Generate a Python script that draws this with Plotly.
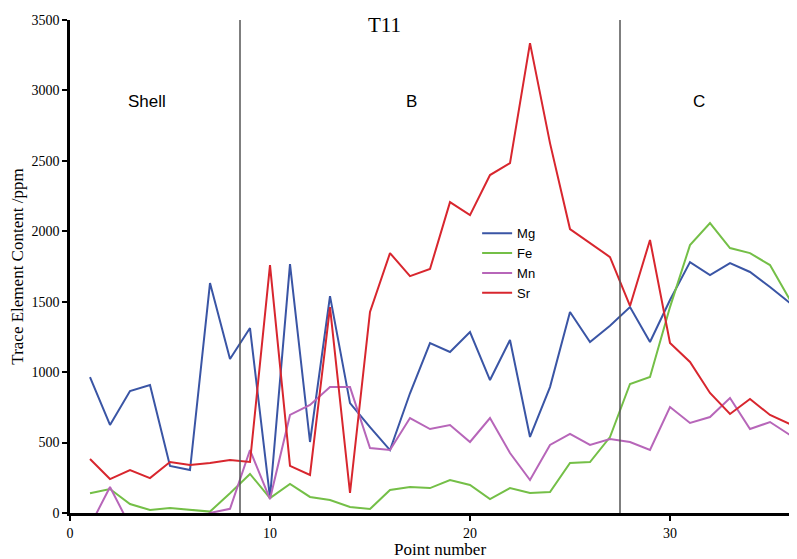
import plotly.graph_objects as go

points = list(range(1, 37))
mg = [965, 625, 866, 908, 334, 305, 1632, 1093, 1313, 110, 1767, 504, 1540, 780, 610, 447,
      850, 1206, 1143, 1285, 944, 1228, 540, 894, 1427, 1214, 1330, 1462, 1214, 1512, 1781, 1689,
      1774, 1711, 1604, 1490]
fe = [140, 170, 64, 21, 36, 21, 10, 140, 277, 106, 206, 114, 92, 43, 28, 163,
      185, 177, 234, 199, 99, 177, 142, 149, 355, 362, 539, 916, 965, 1462, 1902, 2058,
      1881, 1845, 1760, 1512]
mn = [-92, 185, -92, -80, -80, -80, 0, 30, 447, 99, 696, 767, 894, 894, 461, 447,
      674, 596, 624, 504, 674, 426, 234, 483, 561, 483, 525, 504, 447, 752, 639, 681,
      816, 596, 646, 554]
sr = [383, 241, 305, 248, 362, 341, 355, 376, 362, 1760, 334, 270, 1462, 142, 1427, 1845,
      1682, 1732, 2207, 2115, 2399, 2484, 3336, 2626, 2016, 1916, 1817, 1470, 1938, 1207, 1072, 852,
      703, 809, 696, 632]

series = [("Mg", mg, "#3a55a5"), ("Fe", fe, "#74bf47"), ("Mn", mn, "#b766b9"), ("Sr", sr, "#d8262e")]

zone_bounds = [8.5, 27.5]
zone_labels = [("Shell", 3.85), ("B", 17.05), ("C", 31.45)]
zone_label_y = 2924

SERIF = "Liberation Serif, Times New Roman, serif"
SANS = "Liberation Sans, Arial, sans-serif"

fig = go.Figure()
for name, vals, col in series:
    fig.add_trace(go.Scatter(x=points, y=vals, name=name, mode="lines",
                             line=dict(color=col, width=2)))

for xb in zone_bounds:
    fig.add_shape(type="line", x0=xb, x1=xb, y0=0, y1=3500, xref="x", yref="y",
                  line=dict(color="#555555", width=1.5))

for lab, xl in zone_labels:
    fig.add_annotation(x=xl, y=zone_label_y, text=lab, showarrow=False,
                       font=dict(family=SANS, size=17, color="black"))

fig.add_annotation(x=(384 - 70) / 727, y=1 - (25 - 20) / 493, xref="paper", yref="paper",
                   xanchor="center", yanchor="middle",
                   text="T11", showarrow=False,
                   font=dict(family=SERIF, size=21, color="black"))

fig.add_annotation(x=(440 - 70) / 727, y=-(549 - 513) / 493, xref="paper", yref="paper",
                   xanchor="center", yanchor="middle",
                   text="Point number", showarrow=False,
                   font=dict(family=SERIF, size=17, color="black"))

fig.update_layout(
    width=797, height=559,
    margin=dict(l=62, r=8, t=12, b=54),
    plot_bgcolor="white", paper_bgcolor="white",
    showlegend=True,
    legend=dict(x=0.56, y=0.598, xanchor="left", yanchor="top",
                font=dict(family=SANS, size=13, color="black"),
                bgcolor="rgba(0,0,0,0)", tracegroupgap=0, itemwidth=30),
    xaxis=dict(range=[0, 36.35], tickvals=[0, 10, 20, 30], showgrid=False, zeroline=False,
               automargin=False,
               showline=True, linecolor="black", linewidth=3, ticks="outside", ticklen=5,
               tickwidth=2, tickcolor="black",
               tickfont=dict(family=SERIF, size=14, color="black")),
    yaxis=dict(range=[0, 3500], tickvals=[0, 500, 1000, 1500, 2000, 2500, 3000, 3500],
               showgrid=False, zeroline=False, automargin=False,
               showline=True, linecolor="black", linewidth=2.5, ticks="outside", ticklen=5,
               tickwidth=2, tickcolor="black",
               tickfont=dict(family=SERIF, size=14, color="black"),
               title=dict(text="Trace Element Content /ppm", standoff=6,
                          font=dict(family=SERIF, size=17, color="black"))),
)

fig.write_html("out.html")
